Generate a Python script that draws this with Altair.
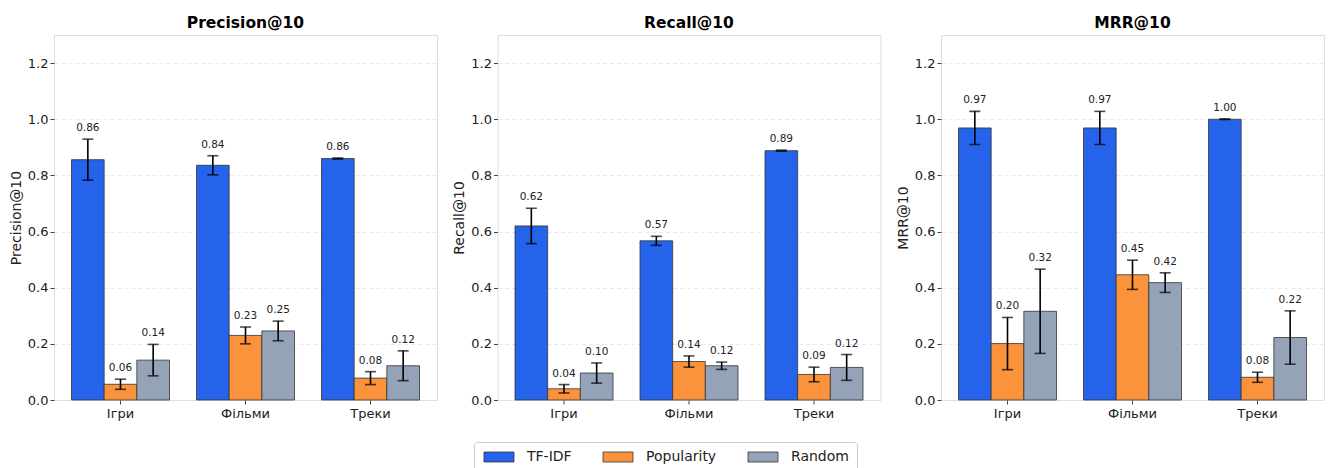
import altair as alt
import pandas as pd

categories = ["Ігри", "Фільми", "Треки"]
methods = ["TF-IDF", "Popularity", "Random"]
colors = ["#2563EB", "#FB923C", "#94A3B8"]
metrics = ["Precision@10", "Recall@10", "MRR@10"]

# values per metric and method, listed over categories
prec_tfidf = [0.856, 0.836, 0.860]
prec_tfidf_err = [0.073, 0.034, 0.002]
prec_pop = [0.056, 0.230, 0.078]
prec_pop_err = [0.018, 0.030, 0.023]
prec_rand = [0.142, 0.246, 0.122]
prec_rand_err = [0.056, 0.035, 0.053]

rec_tfidf = [0.620, 0.567, 0.888]
rec_tfidf_err = [0.063, 0.016, 0.002]
rec_pop = [0.040, 0.137, 0.091]
rec_pop_err = [0.015, 0.020, 0.026]
rec_rand = [0.096, 0.122, 0.116]
rec_rand_err = [0.036, 0.013, 0.046]

mrr_tfidf = [0.969, 0.969, 1.000]
mrr_tfidf_err = [0.059, 0.059, 0.001]
mrr_pop = [0.201, 0.446, 0.081]
mrr_pop_err = [0.093, 0.052, 0.018]
mrr_rand = [0.316, 0.418, 0.2225]
mrr_rand_err = [0.150, 0.035, 0.095]

y_ticks = [0.0, 0.2, 0.4, 0.6, 0.8, 1.0, 1.2]

table = {
    "Precision@10": [(prec_tfidf, prec_tfidf_err), (prec_pop, prec_pop_err), (prec_rand, prec_rand_err)],
    "Recall@10": [(rec_tfidf, rec_tfidf_err), (rec_pop, rec_pop_err), (rec_rand, rec_rand_err)],
    "MRR@10": [(mrr_tfidf, mrr_tfidf_err), (mrr_pop, mrr_pop_err), (mrr_rand, mrr_rand_err)],
}

FONT = "DejaVu Sans"


def make_df(metric):
    rows = []
    for mi, m in enumerate(methods):
        vals, errs = table[metric][mi]
        for ci, c in enumerate(categories):
            v, e = vals[ci], errs[ci]
            rows.append({"category": c, "method": m, "value": v, "err": e,
                         "lo": v - e, "hi": v + e, "label": f"{v:.2f}"})
    return pd.DataFrame(rows)


def panel(metric, show_legend=False):
    df = make_df(metric)
    x = alt.X("category:N", sort=categories, title=None,
              scale=alt.Scale(paddingInner=0.216, paddingOuter=0.14),
              axis=alt.Axis(labelAngle=0, labelFontSize=13, labelFont=FONT, labelColor="#222",
                            tickSize=4, tickColor="#444", domain=False, labelPadding=3, grid=False))
    xo = alt.XOffset("method:N", sort=methods, scale=alt.Scale(paddingInner=0, paddingOuter=0))
    y = alt.Y("value:Q", title=metric, scale=alt.Scale(domain=[0, 1.3], nice=False, zero=True),
              axis=alt.Axis(values=y_ticks, format=".1f", labelFontSize=13, labelFont=FONT,
                            labelColor="#222", titleFontSize=14, titleFont=FONT, titleFontWeight="normal",
                            titleColor="#222", tickSize=4, tickColor="#444", domain=False,
                            gridDash=[4, 3], gridColor="#e3e3e3", gridWidth=0.8, titlePadding=4))
    legend = None
    if show_legend:
        legend = alt.Legend(title=None, orient="none", direction="horizontal", legendX=420, legendY=407,
                            labelFontSize=14, labelFont=FONT, labelColor="#222",
                            symbolType="M-1,-1L5,-1L5,1L-1,1Z", symbolSize=100,
                            symbolStrokeColor="#333", symbolStrokeWidth=0.8, symbolOpacity=1,
                            labelOffset=31, columnPadding=29, padding=8, strokeColor="#cccccc",
                            cornerRadius=3, fillColor="white")
    color = alt.Color("method:N", sort=methods, scale=alt.Scale(domain=methods, range=colors), legend=legend)

    base = alt.Chart(df)
    bars = base.mark_bar(stroke="#333", strokeWidth=0.8, opacity=1).encode(x=x, xOffset=xo, y=y, color=color)
    rules = base.mark_rule(color="black", strokeWidth=1.6).encode(
        x=alt.X("category:N", sort=categories), xOffset=alt.XOffset("method:N", sort=methods),
        y=alt.Y("lo:Q"), y2="hi:Q")
    caps_hi = base.mark_tick(color="black", thickness=1.6, size=11, orient="horizontal").encode(
        x=alt.X("category:N", sort=categories), xOffset=alt.XOffset("method:N", sort=methods), y=alt.Y("hi:Q"))
    caps_lo = base.mark_tick(color="black", thickness=1.6, size=11, orient="horizontal").encode(
        x=alt.X("category:N", sort=categories), xOffset=alt.XOffset("method:N", sort=methods), y=alt.Y("lo:Q"))
    labels = base.mark_text(fontSize=10.5, font=FONT, color="#222", baseline="alphabetic", dy=-8).encode(
        x=alt.X("category:N", sort=categories), xOffset=alt.XOffset("method:N", sort=methods),
        y=alt.Y("hi:Q"), text="label:N")
    return alt.layer(bars, rules, caps_hi, caps_lo, labels).properties(
        width=383, height=365,
        title=alt.Title(metric, fontSize=15.5, font=FONT, fontWeight="bold", color="black",
                        anchor="middle", offset=4))


chart = alt.hconcat(panel(metrics[0], True), panel(metrics[1]), panel(metrics[2]),
                    spacing=60.5, bounds="flush").properties(
    padding={"left": 0, "top": 7, "right": 0, "bottom": 0}
).configure_view(stroke="#444", strokeWidth=1).configure(background="white")

chart.save("out.html", embed_options={"renderer": "svg", "actions": False})
